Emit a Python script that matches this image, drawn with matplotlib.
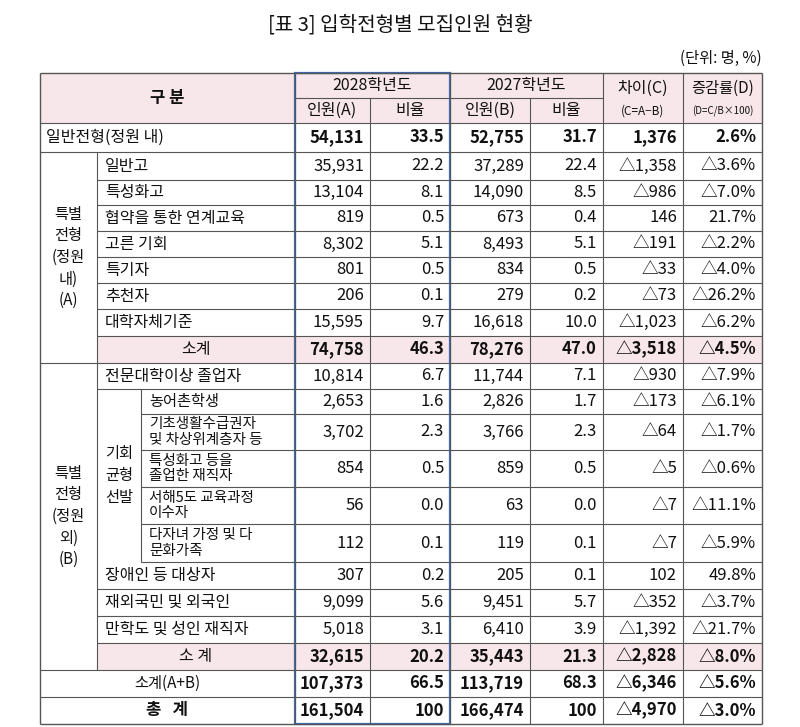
import matplotlib
matplotlib.use("Agg")
import matplotlib.pyplot as plt
from matplotlib.patches import Rectangle

plt.rcParams['font.family'] = ['Noto Sans CJK KR', 'DejaVu Sans']

labels = ["일반전형(정원 내)", "일반고", "특성화고", "협약을 통한 연계교육", "고른 기회", "특기자", "추천자",
          "대학자체기준", "소계", "전문대학이상 졸업자", "농어촌학생", "기초생활수급권자\n및 차상위계층자 등",
          "특성화고 등을\n졸업한 재직자", "서해5도 교육과정\n이수자", "다자녀 가정 및 다\n문화가족",
          "장애인 등 대상자", "재외국민 및 외국인", "만학도 및 성인 재직자", "소 계", "소계(A+B)", "총   계"]
n2028 = ["54,131", "35,931", "13,104", "819", "8,302", "801", "206", "15,595", "74,758", "10,814", "2,653",
         "3,702", "854", "56", "112", "307", "9,099", "5,018", "32,615", "107,373", "161,504"]
r2028 = ["33.5", "22.2", "8.1", "0.5", "5.1", "0.5", "0.1", "9.7", "46.3", "6.7", "1.6", "2.3", "0.5", "0.0",
         "0.1", "0.2", "5.6", "3.1", "20.2", "66.5", "100"]
n2027 = ["52,755", "37,289", "14,090", "673", "8,493", "834", "279", "16,618", "78,276", "11,744", "2,826",
         "3,766", "859", "63", "119", "205", "9,451", "6,410", "35,443", "113,719", "166,474"]
r2027 = ["31.7", "22.4", "8.5", "0.4", "5.1", "0.5", "0.2", "10.0", "47.0", "7.1", "1.7", "2.3", "0.5", "0.0",
         "0.1", "0.1", "5.7", "3.9", "21.3", "68.3", "100"]
diff = ["1,376", "△1,358", "△986", "146", "△191", "△33", "△73", "△1,023", "△3,518", "△930", "△173", "△64",
        "△5", "△7", "△7", "102", "△352", "△1,392", "△2,828", "△6,346", "△4,970"]
rate = ["2.6%", "△3.6%", "△7.0%", "21.7%", "△2.2%", "△4.0%", "△26.2%", "△6.2%", "△4.5%", "△7.9%", "△6.1%",
        "△1.7%", "△0.6%", "△11.1%", "△5.9%", "49.8%", "△3.7%", "△21.7%", "△8.0%", "△5.6%", "△3.0%"]

W, H = 800, 727
fig = plt.figure(figsize=(8, 7.27), dpi=100)
ax = fig.add_axes([0, 0, 1, 1])
ax.set_xlim(0, W); ax.set_ylim(H, 0); ax.axis('off')

PINK = '#f7e6ea'
LC = '#555555'
X0, XA, XB, XL, X1, X2, X3, X4, X5, X6, XR = 40, 97, 141, 295, 370, 450, 530, 603, 683, 762, 762
ys = [123, 152, 180, 205, 231, 257, 283, 309, 336, 363, 389, 414, 450, 487, 524, 562, 589, 616, 643, 670, 697, 724]
T, HM = 73, 98

def line(x0, y0, x1, y1, c=LC, lw=0.8):
    ax.plot([x0, x1], [y0, y1], color=c, lw=lw, solid_capstyle='butt')

def txt(x, y, s, ha='center', fs=11, bold=False, ls=1.0):
    ax.text(x, y, s, ha=ha, va='center', fontsize=fs, fontweight='bold' if bold else 'normal',
            linespacing=ls, color='#111111')

ax.text(400, 25, "[표 3] 입학전형별 모집인원 현황", ha='center', va='center', fontsize=14.5, color='#111')
ax.text(XR, 58, "(단위: 명, %)", ha='right', va='center', fontsize=11, color='#111')

# fills
ax.add_patch(Rectangle((X0, T), XR - X0, ys[0] - T, color=PINK, lw=0))
for i in (8, 18):
    ax.add_patch(Rectangle((XA, ys[i]), XR - XA, ys[i + 1] - ys[i], color=PINK, lw=0))

# header
txt((X0 + XL) / 2, (T + ys[0]) / 2, "구 분", fs=12, bold=True)
txt((XL + X2) / 2, (T + HM) / 2, "2028학년도", fs=11.5)
txt((X2 + X4) / 2, (T + HM) / 2, "2027학년도", fs=11.5)
txt((XL + X1) / 2, (HM + ys[0]) / 2, "인원(A)", fs=11.5)
txt((X1 + X2) / 2, (HM + ys[0]) / 2, "비율", fs=11.5)
txt((X2 + X3) / 2, (HM + ys[0]) / 2, "인원(B)", fs=11.5)
txt((X3 + X4) / 2, (HM + ys[0]) / 2, "비율", fs=11.5)
txt((X4 + X5) / 2, 88, "차이(C)", fs=11.5)
txt((X4 + X5) / 2, 111, "(C=A−B)", fs=8.5)
txt((X5 + X6) / 2, 88, "증감률(D)", fs=11)
txt((X5 + X6) / 2, 111, "(D=C/B×100)", fs=7)

# groups
txt((X0 + XA) / 2, (ys[1] + ys[9]) / 2, "특별\n전형\n(정원\n내)\n(A)", fs=11, ls=1.35)
txt((X0 + XA) / 2, (ys[9] + ys[19]) / 2, "특별\n전형\n(정원\n외)\n(B)", fs=11, ls=1.35)
txt((XA + XB) / 2, (ys[10] + ys[15]) / 2, "기회\n균형\n선발", fs=11, ls=1.35)

bold_rows = {0, 8, 18, 19, 20}
for i in range(21):
    yc = (ys[i] + ys[i + 1]) / 2
    b = i in bold_rows
    s = labels[i]
    if i == 0:
        txt(X0 + 6, yc, s, ha='left', fs=11.5)
    elif i in (8, 18):
        txt((XA + XL) / 2, yc, s, fs=11.5)
    elif i in (19, 20):
        txt((X0 + XL) / 2, yc, s, fs=12 if i == 20 else 11, bold=(i == 20))
    elif 10 <= i <= 14:
        txt(XB + 8, yc, s, ha='left', fs=11 if '\n' not in s else 10.5, ls=1.1)
    else:
        txt(XA + 8, yc, s, ha='left', fs=11.5)
    for xr, v in ((X1, n2028), (X2, r2028), (X3, n2027), (X4, r2027), (X5, diff), (X6, rate)):
        txt(xr - 6, yc, v[i], ha='right', fs=12, bold=b)

# grid lines
line(X0, T, XR, T, lw=1.0)
line(X0, ys[-1], XR, ys[-1], lw=1.0)
line(XL, HM, X4, HM)
line(X0, ys[0], XR, ys[0])
for i in range(1, 21):
    y = ys[i]
    if i in (1, 9, 19, 20):
        line(X0, y, XR, y)
    elif 11 <= i <= 15:
        line(XB, y, XR, y)
    else:
        line(XA, y, XR, y)
for x in (X0, XR):
    line(x, T, x, ys[-1], lw=1.0)
line(XA, ys[1], XA, ys[19])
line(XB, ys[10], XB, ys[15])
for x in (XL, X1, X2, X3, X4, X5):
    y0 = HM if x in (X1, X3) else T
    line(x, y0, x, ys[-1])
# blue box
ax.add_patch(Rectangle((XL, T), X2 - XL, ys[-1] - T, fill=False, ec='#3b6fb6', lw=1.6))

fig.savefig("out.png", dpi=100)
